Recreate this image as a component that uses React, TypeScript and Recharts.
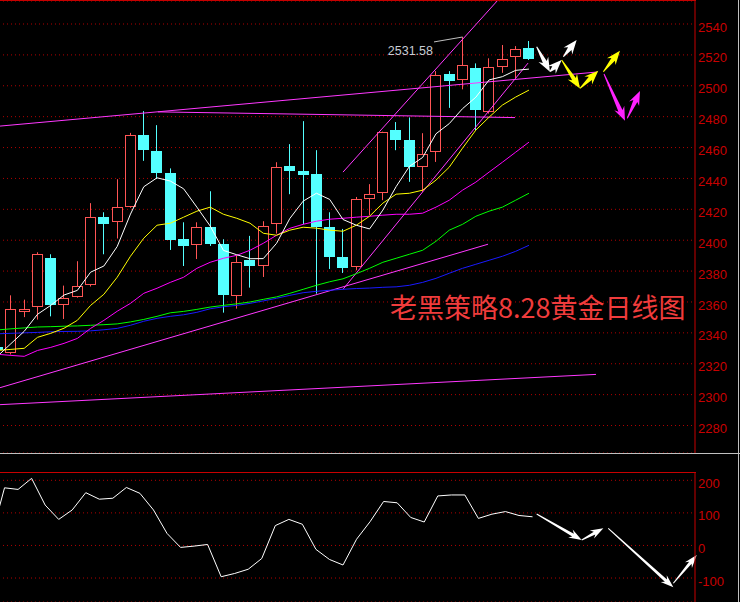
import React from "react";
import { ComposedChart, Bar, Line, XAxis, YAxis, CartesianGrid, ReferenceLine, ReferenceDot } from "recharts";

// ---- data ----
const opens = [2330.8, 2326.5, 2353.7, 2356.3, 2388.3, 2358.5, 2363.2, 2370.6, 2414.9, 2411.8, 2421.6, 2468, 2457.7, 2443.4, 2400.6, 2396.5, 2408.4, 2397.4, 2364.5, 2387.5, 2383.3, 2410.1, 2447.9, 2444.7, 2442.8, 2408.4, 2389, 2382.7, 2426.7, 2430.6, 2471.3, 2464.8, 2447.1, 2456.6, 2507.6, 2503.7, 2511.3, 2482.8, 2511.7, 2518.2, 2524.6];
const highs = [2331.5, 2364.3, 2361.5, 2392.2, 2390.9, 2370.6, 2386.4, 2424, 2418.1, 2439.5, 2469.5, 2483.6, 2474.5, 2446.5, 2411.6, 2411.6, 2431.7, 2400.6, 2390.2, 2402.8, 2412.3, 2450.5, 2462.2, 2477.1, 2458.3, 2418.1, 2407.3, 2428, 2436.3, 2470.3, 2476.5, 2479.5, 2469.3, 2509.5, 2509.5, 2531.58, 2514.5, 2517.8, 2526.4, 2525.7, 2529];
const lows = [2327.5, 2326, 2350.2, 2348.6, 2350.7, 2349, 2362.8, 2370, 2390.9, 2401.1, 2421, 2451.4, 2439.7, 2393.7, 2383.3, 2387.8, 2396.3, 2353.1, 2355.7, 2369.3, 2376.2, 2404.3, 2429.8, 2410.3, 2365.4, 2381.4, 2378.8, 2380.5, 2416.2, 2425.9, 2458.3, 2437.8, 2431.3, 2450.7, 2485.7, 2497.7, 2471.3, 2482, 2508.4, 2504.8, 2516.7];
const closes = [2328.6, 2355.2, 2355.7, 2390.9, 2358, 2362.8, 2370.1, 2414.9, 2410.5, 2421.2, 2468, 2458.5, 2443.6, 2400, 2396.3, 2408.4, 2397.6, 2364.5, 2386.2, 2383.3, 2409, 2447.1, 2444.9, 2442.3, 2408.6, 2389.1, 2382, 2426.5, 2430.2, 2469.8, 2464.8, 2447.5, 2455.5, 2506.7, 2503.2, 2513.2, 2484.2, 2511.9, 2517.1, 2523.6, 2517.3];

const ma5 = [2325, 2333, 2341, 2352, 2357.8, 2364.5, 2367.5, 2379.3, 2383.3, 2395.9, 2416.9, 2434.6, 2440.4, 2438.3, 2433.3, 2421.4, 2409.2, 2393.4, 2390.6, 2388, 2388.1, 2398, 2414.1, 2425.3, 2430.4, 2426.4, 2413.4, 2409.7, 2407.3, 2419.5, 2434.7, 2447.8, 2453.6, 2468.9, 2475.5, 2485.2, 2492.6, 2503.8, 2505.9, 2510, 2510.8];
const ma10 = [2328.6, 2329.3, 2330, 2337.1, 2339.7, 2343, 2348.1, 2357.8, 2365, 2376, 2389.6, 2401.3, 2409.7, 2411, 2414.9, 2418.8, 2421.4, 2416.8, 2414.2, 2411, 2404.5, 2403.2, 2406.5, 2408.4, 2407.8, 2406.5, 2405.8, 2409.7, 2415.5, 2424, 2429.8, 2430.4, 2432.4, 2438.9, 2447.3, 2459.6, 2471.3, 2479.7, 2487.5, 2492.7, 2497.2];
const ma20 = [2326.1, 2325.4, 2324.8, 2328.6, 2330.6, 2333.2, 2336.4, 2342.9, 2348.1, 2354, 2359.1, 2365.6, 2368.9, 2372.7, 2376, 2381.8, 2385.7, 2388.3, 2390.2, 2393.5, 2398, 2403.2, 2407.7, 2410.3, 2412.3, 2413.6, 2414.2, 2414.9, 2415.5, 2416.2, 2416.8, 2416.8, 2417.5, 2421.4, 2425.9, 2432.4, 2437.6, 2444.1, 2450.5, 2457, 2463.5];
const ma30 = [2341.9, 2342.6, 2343.2, 2343.8, 2344, 2344.3, 2344.5, 2344.9, 2345.3, 2345.8, 2347.1, 2348.7, 2350.7, 2353, 2353.9, 2355.2, 2356.7, 2357.8, 2358.8, 2360, 2361.7, 2363.3, 2365.6, 2368.2, 2370.8, 2373.1, 2375, 2378.3, 2381.8, 2385.7, 2388.3, 2390.9, 2393.5, 2399.3, 2406.5, 2410.3, 2415.5, 2418.8, 2421.4, 2425.9, 2430.4];
const ma60 = [2339.4, 2339.7, 2340, 2340.3, 2340.7, 2340.9, 2341, 2341.3, 2342, 2342.9, 2344.9, 2347.5, 2349.4, 2350.7, 2351.7, 2353.3, 2355.6, 2356.9, 2357.8, 2359.1, 2360.7, 2362.4, 2364.3, 2366, 2366.9, 2367.6, 2368.2, 2368.7, 2369, 2369.5, 2369.8, 2370.8, 2372.7, 2375.3, 2378.6, 2381.8, 2384.4, 2387, 2389.6, 2392.8, 2396.7];

const cci = [23, 177, 172, 206, 124, 80, 109, 162, 142, 145, 178, 160, 109, 37, -6, -2, 3, -96, -86, -73, -40, 61, 80, 65, -12, -43, -60, 19, 73, 135, 131, 86, 72, 152, 155, 155, 83, 96, 104, 92, 88];

const priceTicks = [2280, 2300, 2320, 2340, 2360, 2380, 2400, 2420, 2440, 2460, 2480, 2500, 2520, 2540];
const cciTicks = [-100, 0, 100, 200];
const SLOTS = 53;

const maxLabel = { i: 35, price: 2531.58, text: "2531.58", li: 32.85, lp: 2528.4 };

// drawn trend lines (candle index, price)
const trendLines = [
  { x1: 0.18, y1: 2473.9, x2: 45.12, y2: 2508.9 },
  { x1: 12.07, y1: 2483.1, x2: 38.95, y2: 2479.4 },
  { x1: 26.0, y1: 2444.1, x2: 39.33, y2: 2571.4 },
  { x1: 26.0, y1: 2368.2, x2: 39.93, y2: 2514.7 },
  { x1: 0.18, y1: 2304.5, x2: 36.92, y2: 2397.4 },
  { x1: 0.18, y1: 2293.5, x2: 45.05, y2: 2313.1 },
];

const mainArrows = [
  { x1: 40.58, y1: 2525.3, x2: 41.58, y2: 2509.1, color: "#ffffff" },
  { x1: 41.58, y1: 2509.1, x2: 42.46, y2: 2516.7, color: "#ffffff" },
  { x1: 42.59, y1: 2518.8, x2: 43.59, y2: 2529.6, color: "#ffffff" },
  { x1: 42.46, y1: 2516.7, x2: 43.84, y2: 2498.3, color: "#ffff00" },
  { x1: 43.84, y1: 2498.3, x2: 45.22, y2: 2509.7, color: "#ffff00" },
  { x1: 45.6, y1: 2509.1, x2: 46.85, y2: 2522.7, color: "#ffff00" },
  { x1: 45.65, y1: 2507.6, x2: 47.23, y2: 2477.3, color: "#ff22ff" },
  { x1: 47.4, y1: 2478.9, x2: 48.36, y2: 2496.6, color: "#ff22ff" },
];

const cciArrows = [
  { x1: 40.58, y1: 96.5, x2: 43.97, y2: 16.7, color: "#ffffff" },
  { x1: 43.97, y1: 16.7, x2: 45.6, y2: 52.6, color: "#ffffff" },
  { x1: 45.97, y1: 52.6, x2: 50.87, y2: -128.5, color: "#ffffff" },
  { x1: 50.87, y1: -116.2, x2: 52.63, y2: -29.3, color: "#ffffff" },
];

// ---- styles ----
const RED = "#ff5555";
const CYAN = "#54ffff";
const AXIS_RED = "#c80000";
const GRID_RED = "#b00000";
const LABEL_FONT = "'Liberation Sans', Arial, sans-serif";

const data = Array.from({ length: SLOTS }, (_, i) => {
  const has = i < opens.length;
  return {
    name: String(i),
    idx: i,
    o: has ? opens[i] : null,
    c: has ? closes[i] : null,
    wick: has ? [lows[i], highs[i]] : null,
    body: has ? [Math.min(opens[i], closes[i]), Math.max(opens[i], closes[i])] : null,
    ma5: has ? ma5[i] : null,
    ma10: has ? ma10[i] : null,
    ma20: has ? ma20[i] : null,
    ma30: has ? ma30[i] : null,
    ma60: has ? ma60[i] : null,
    cci: has ? cci[i] : null,
  };
});

function wickShape(props: any) {
  const { x, y, width, height, payload } = props;
  if (!payload || payload.o == null || !isFinite(x) || !isFinite(y) || !isFinite(height)) return <g />;
  const up = payload.c >= payload.o;
  const top = Math.min(y, y + height);
  const h = Math.abs(height);
  const cx = Math.round(x + width / 2 - 0.5);
  return <rect x={cx} y={top} width={1} height={Math.max(h, 1)} fill={up ? RED : CYAN} />;
}

function bodyShape(props: any) {
  const { x, y, width, height, payload } = props;
  if (!payload || payload.o == null || !isFinite(x) || !isFinite(y) || !isFinite(height)) return <g />;
  const up = payload.c >= payload.o;
  const top = Math.round(Math.min(y, y + height));
  const h = Math.max(Math.round(Math.abs(height)), 1);
  const left = Math.round(x);
  const w = Math.round(width);
  if (up) {
    return <rect x={left + 0.5} y={top + 0.5} width={w - 1} height={Math.max(h - 1, 1)} fill="#000" stroke={RED} strokeWidth={1} />;
  }
  return <rect x={left} y={top} width={w} height={h} fill={CYAN} />;
}

function makeArrow(color: string, headLen: number, headHalf: number, shaftHalf: number) {
  return (props: any) => {
    const { x1, y1, x2, y2 } = props;
    const dx = x2 - x1;
    const dy = y2 - y1;
    const len = Math.sqrt(dx * dx + dy * dy) || 1;
    const ux = dx / len;
    const uy = dy / len;
    const nx = -uy;
    const ny = ux;
    const bx = x2 - ux * headLen;
    const by = y2 - uy * headLen;
    const barbX = bx - ux * 3;
    const barbY = by - uy * 3;
    const pts = [
      [x1 + nx * 0.5, y1 + ny * 0.5],
      [bx + nx * shaftHalf, by + ny * shaftHalf],
      [barbX + nx * headHalf, barbY + ny * headHalf],
      [x2, y2],
      [barbX - nx * headHalf, barbY - ny * headHalf],
      [bx - nx * shaftHalf, by - ny * shaftHalf],
      [x1 - nx * 0.5, y1 - ny * 0.5],
    ];
    return <polygon points={pts.map((p) => p.join(",")).join(" ")} fill={color} />;
  };
}

function AxisTick(props: any) {
  const { x, y, payload } = props;
  return (
    <text x={x} y={y + 3} dy="0.35em" fill={AXIS_RED} fontSize={13} fontFamily={LABEL_FONT} textAnchor="start">
      {payload.value}
    </text>
  );
}

function MaxLabelShape(props: any) {
  const { cx, cy } = props;
  return (
    <text x={cx - 1} y={cy + 13} fill="#c8ccd4" fontSize={12.5} fontFamily={LABEL_FONT} textAnchor="end">
      {maxLabel.text}
    </text>
  );
}

export default function App() {
  return (
    <div style={{ position: "fixed", left: 0, top: 0, width: 740, height: 602, background: "#000", overflow: "hidden" }}>
      {/* main price chart */}
      <div style={{ position: "absolute", left: -9, top: 0 }}>
        <ComposedChart width={749} height={454} data={data} margin={{ top: 1, right: 0, bottom: 1, left: 0 }}>
          <XAxis xAxisId="c1" dataKey="name" type="category" hide />
          <XAxis xAxisId="c2" dataKey="name" type="category" hide />
          <XAxis xAxisId="n" dataKey="idx" type="number" domain={[-0.5, 52.5]} allowDataOverflow hide />
          <YAxis
            orientation="right"
            width={45}
            domain={[2262.2, 2554.9]}
            allowDataOverflow
            ticks={priceTicks}
            interval={0}
            tickSize={0}
            tickMargin={3}
            tickLine={false}
            axisLine={{ stroke: AXIS_RED, strokeWidth: 1 }}
            tick={<AxisTick />}
          />
          <CartesianGrid xAxisId="c1" vertical={false} stroke={GRID_RED} strokeDasharray="1 3" />
          {trendLines.map((l, k) => (
            <ReferenceLine
              key={"t" + k}
              xAxisId="n"
              segment={[{ x: l.x1, y: l.y1 }, { x: l.x2, y: l.y2 }]}
              stroke="#ff38ff"
              strokeWidth={1}
              ifOverflow="hidden"
            />
          ))}
          <Line xAxisId="c1" dataKey="ma60" stroke="#1a1aff" strokeWidth={1} dot={false} isAnimationActive={false} />
          <Line xAxisId="c1" dataKey="ma30" stroke="#00ff00" strokeWidth={1} dot={false} isAnimationActive={false} />
          <Line xAxisId="c1" dataKey="ma20" stroke="#ff00ff" strokeWidth={1} dot={false} isAnimationActive={false} />
          <Line xAxisId="c1" dataKey="ma10" stroke="#ffff00" strokeWidth={1} dot={false} isAnimationActive={false} />
          <Line xAxisId="c1" dataKey="ma5" stroke="#ffffff" strokeWidth={1} dot={false} isAnimationActive={false} />
          <Bar xAxisId="c1" dataKey="wick" barSize={1} shape={wickShape} isAnimationActive={false} />
          <Bar xAxisId="c2" dataKey="body" barSize={11} shape={bodyShape} isAnimationActive={false} />
          <ReferenceLine
            xAxisId="n"
            segment={[{ x: maxLabel.i, y: maxLabel.price }, { x: maxLabel.li, y: maxLabel.lp }]}
            stroke="#c0c0c0"
            strokeWidth={1}
            ifOverflow="visible"
          />
          <ReferenceDot xAxisId="n" x={maxLabel.li} y={maxLabel.lp} r={0} ifOverflow="visible" shape={MaxLabelShape} />
          {mainArrows.map((a, k) => (
            <ReferenceLine
              key={"a" + k}
              xAxisId="n"
              segment={[{ x: a.x1, y: a.y1 }, { x: a.x2, y: a.y2 }]}
              ifOverflow="visible"
              shape={makeArrow(a.color, 11, 5.5, 2.2)}
            />
          ))}
        </ComposedChart>
      </div>

      {/* indicator panel */}
      <div style={{ position: "absolute", left: -9, top: 472 }}>
        <ComposedChart width={749} height={130} data={data} margin={{ top: 0, right: 0, bottom: 0, left: 0 }}>
          <XAxis xAxisId="c1" dataKey="name" type="category" hide />
          <XAxis xAxisId="n" dataKey="idx" type="number" domain={[-0.5, 52.5]} allowDataOverflow hide />
          <YAxis
            orientation="right"
            width={45}
            domain={[-173.6, 225.5]}
            allowDataOverflow
            ticks={cciTicks}
            interval={0}
            tickSize={0}
            tickMargin={3}
            tickLine={false}
            axisLine={{ stroke: AXIS_RED, strokeWidth: 1 }}
            tick={<AxisTick />}
          />
          <CartesianGrid xAxisId="c1" vertical={false} stroke={GRID_RED} strokeDasharray="1 3" />
          <Line xAxisId="c1" dataKey="cci" stroke="#ffffff" strokeWidth={1} dot={false} isAnimationActive={false} />
          {cciArrows.map((a, k) => (
            <ReferenceLine
              key={"b" + k}
              xAxisId="n"
              segment={[{ x: a.x1, y: a.y1 }, { x: a.x2, y: a.y2 }]}
              ifOverflow="visible"
              shape={makeArrow(a.color, 10, 4.5, 1.6)}
            />
          ))}
        </ComposedChart>
      </div>

      {/* frame lines */}
      <div style={{ position: "absolute", left: 0, top: 0, width: 696, height: 1, background: AXIS_RED }} />
      <div style={{ position: "absolute", left: 0, top: 453, width: 740, height: 1, background: "#c0c0c0" }} />
      <div style={{ position: "absolute", left: 0, top: 472, width: 696, height: 1, background: AXIS_RED }} />
      <div style={{ position: "absolute", left: 738, top: 0, width: 1, height: 602, background: "#c0c0c0" }} />

      {/* title */}
      <svg width={740} height={602} style={{ position: "absolute", left: 0, top: 0, pointerEvents: "none" }}>
        <text x={390} y={318} fill="#f03c3c" fontSize={27} fontFamily="'Noto Sans CJK SC', sans-serif">
          老黑策略8.28黄金日线图
        </text>
      </svg>
    </div>
  );
}
